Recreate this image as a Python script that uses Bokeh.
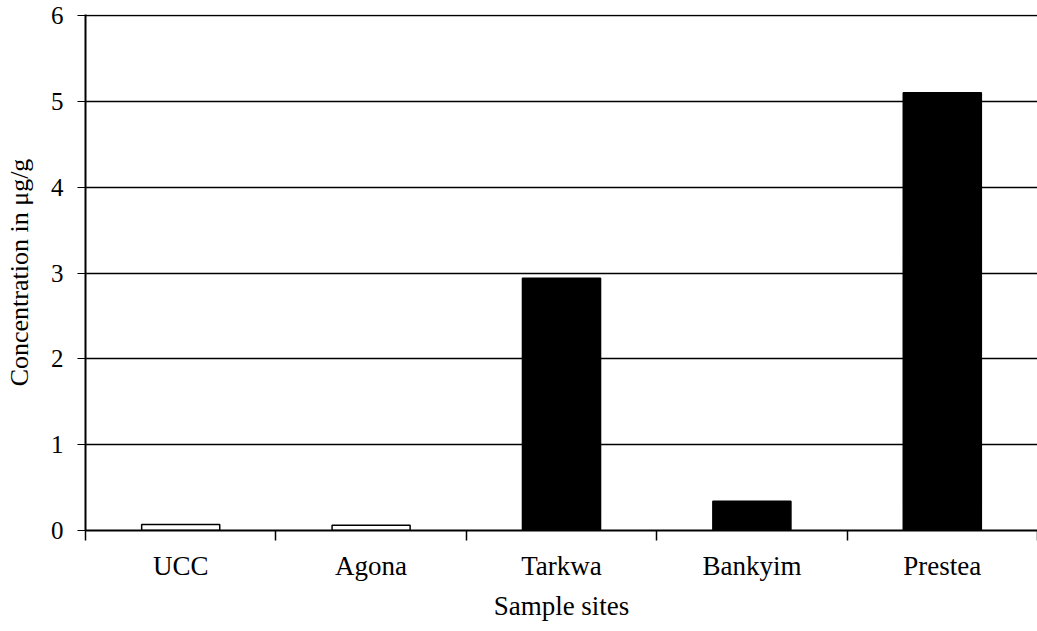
import numpy as np
from bokeh.plotting import figure
from bokeh.models import ColumnDataSource, FixedTicker, Range1d
from bokeh.embed import file_html
from bokeh.resources import INLINE

sites = ["UCC", "Agona", "Tarkwa", "Bankyim", "Prestea"]
concentration = [0.07, 0.06, 2.94, 0.34, 5.10]
bar_fill = ["white", "white", "black", "black", "black"]
y_ticks = [0, 1, 2, 3, 4, 5, 6]

FONT = "Liberation Serif"

xpos = np.arange(len(sites)) + 0.5
src = ColumnDataSource(dict(x=xpos, top=concentration, fill=bar_fill))

p = figure(width=1037, height=631, output_backend="svg", toolbar_location=None,
           x_range=Range1d(0, len(sites)), y_range=Range1d(0, 6.012),
           min_border_left=85, min_border_right=0, min_border_top=14, min_border_bottom=101)
p.outline_line_color = None
p.background_fill_color = "white"
p.border_fill_color = "white"

p.vbar(x="x", top="top", bottom=0, width=0.41, source=src,
       fill_color="fill", line_color="black", line_width=1.5)

# x axis
p.xaxis.ticker = FixedTicker(ticks=list(xpos), minor_ticks=list(range(len(sites) + 1)))
p.xaxis.major_label_overrides = {float(x): s for x, s in zip(xpos, sites)}
p.xaxis.major_tick_line_color = None
p.xaxis.major_tick_in = 0
p.xaxis.major_tick_out = 0
p.xaxis.minor_tick_line_color = "black"
p.xaxis.minor_tick_line_width = 1.5
p.xaxis.minor_tick_in = 0
p.xaxis.minor_tick_out = 10
p.xaxis.axis_line_color = "black"
p.xaxis.axis_line_width = 2
p.xaxis.major_label_standoff = 10
p.xaxis.axis_label = "Sample sites"
p.xaxis.axis_label_standoff = 7

# y axis
p.yaxis.ticker = FixedTicker(ticks=y_ticks)
p.yaxis.major_tick_in = 0
p.yaxis.major_tick_out = 8
p.yaxis.major_tick_line_color = "black"
p.yaxis.major_tick_line_width = 1.2
p.yaxis.minor_tick_line_color = None
p.yaxis.axis_line_color = "black"
p.yaxis.axis_line_width = 2
p.yaxis.major_label_standoff = 14
p.yaxis.axis_label = "Concentration in μg/g"
p.yaxis.axis_label_standoff = 14

p.xaxis.major_label_text_font_size = "27px"
p.yaxis.major_label_text_font_size = "25px"
p.xaxis.axis_label_text_font_size = "27px"
p.yaxis.axis_label_text_font_size = "26px"
for ax in (p.xaxis, p.yaxis):
    ax.major_label_text_font = FONT
    ax.major_label_text_color = "black"
    ax.axis_label_text_font = FONT
    ax.axis_label_text_font_style = "normal"
    ax.axis_label_text_color = "black"

p.xgrid.grid_line_color = None
p.ygrid.ticker = FixedTicker(ticks=y_ticks[1:])
p.ygrid.grid_line_color = "black"
p.ygrid.grid_line_width = 1.5

open("out.html", "w").write(file_html(p, INLINE))
